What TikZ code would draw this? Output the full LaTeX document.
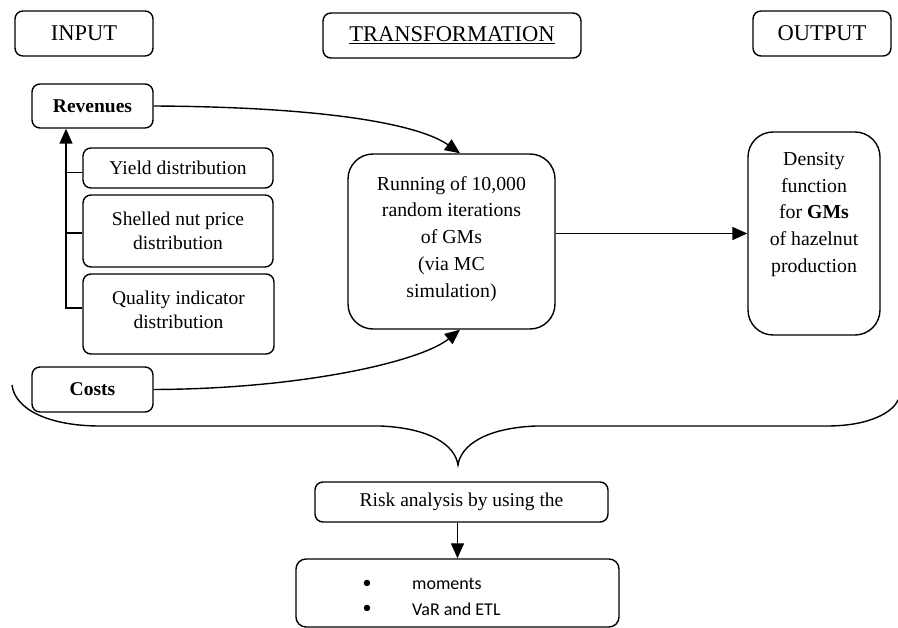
\documentclass[tikz,border=0pt]{standalone}
\usepackage{fontspec}
\setmainfont{Liberation Serif}
\newfontfamily\calibri{Carlito}
\usetikzlibrary{arrows.meta,calc}
\tikzset{
  box/.style={draw, rounded corners=8pt, line width=1.4pt, align=center, inner sep=0pt, font=\fontsize{19.5}{26}\selectfont},
  hdr/.style={box, font=\fontsize{22.5}{27}\selectfont},
  bigbox/.style={box, rounded corners=25pt},
  txt/.style={align=center, inner sep=0pt, font=\fontsize{19.8}{26.8}\selectfont},
  arr/.style={line width=1.4pt, -{Triangle[length=15pt,width=13pt]}},
  ln/.style={line width=1.4pt},
}
\begin{document}
\begin{tikzpicture}[x=1pt,y=-1pt]
\useasboundingbox (0,0) rectangle (898,628);
% headers
\node[hdr, minimum width=138, minimum height=45] (input) at (84,33.5) {INPUT};
\node[hdr, minimum width=258, minimum height=45] (trans) at (452,35.5) {\underline{TRANSFORMATION}};
\node[hdr, minimum width=138, minimum height=45] (output) at (822,33.5) {OUTPUT};
% inputs
\node[box, minimum width=121, minimum height=44] (rev) at (92.5,106) {\textbf{Revenues}};
\node[box, minimum width=190, minimum height=40] (yield) at (178,168) {Yield distribution};
\node[box, minimum width=190, minimum height=72, font=\fontsize{19.5}{24}\selectfont] (shelled) at (178,231) {Shelled nut price\\distribution};
\node[box, minimum width=191, minimum height=80] (quality) at (178.5,314) {};
\node[txt, font=\fontsize{19.5}{24}\selectfont] (qtext) at (178.5,310) {Quality indicator\\distribution};
\node[box, minimum width=121, minimum height=45] (costs) at (92.5,389.5) {\textbf{Costs}};
% transformation
\node[bigbox, minimum width=207, minimum height=175] (run) at (451.5,241.5) {};
\node[txt, anchor=north] (runtext) at (451.5,176) {Running of 10,000\\random iterations\\of GMs\\(via MC\\simulation)};
% output
\node[bigbox, minimum width=132, minimum height=203] (dens) at (814,233.5) {};
\node[txt, anchor=north] (denstext) at (814,152) {Density\\function\\for \textbf{GMs}\\of hazelnut\\production};
% risk
\node[box, minimum width=293, minimum height=40] (risk) at (461.5,502) {Risk analysis by using the};
\node[box, rounded corners=10pt, minimum width=323, minimum height=68] (res) at (457.5,593) {};
\node[inner sep=0pt, font=\calibri\fontsize{18}{22}\selectfont] (b1) at (367,584) {•};
\node[inner sep=0pt, font=\calibri\fontsize{18}{22}\selectfont] (b2) at (367,609) {•};
\node[inner sep=0pt, anchor=west, font=\calibri\fontsize{18}{22}\selectfont] (m1) at (412,584) {moments};
\node[inner sep=0pt, anchor=west, font=\calibri\fontsize{18}{22}\selectfont] (m2) at (412,609) {VaR and ETL};
% spine
\coordinate (spine) at (66,0);
\draw[ln] ([yshift=-4.7pt]yield.west) -- ([yshift=-4.7pt]yield.west -| spine);
\draw[ln] ([yshift=-2pt]shelled.west) -- ([yshift=-2pt]shelled.west -| spine);
\draw[arr] ([yshift=6pt]quality.west) -- ([yshift=6pt]quality.west -| spine) -- (rev.south -| spine);
% curves
\draw[arr] (rev.east) .. controls (330,107) and (420,125) .. ([xshift=8.5pt]run.north);
\draw[arr] (costs.east) .. controls (300,389) and (420,362) .. ([xshift=8.5pt]run.south);
\draw[arr] (dens.west -| run.east) -- (dens.west);
\draw[arr] (res.north |- risk.south) -- (res.north);
% brace
\draw[ln] (12,385) .. controls (15,410) and (50,426) .. (100,426) -- (380,426)
  .. controls (430,428) and (455,445) .. (458,465)
  .. controls (461,445) and (486,428) .. (536,426) -- (827,426)
  .. controls (870,426) and (893,412) .. (898,400);
\end{tikzpicture}
\end{document}
